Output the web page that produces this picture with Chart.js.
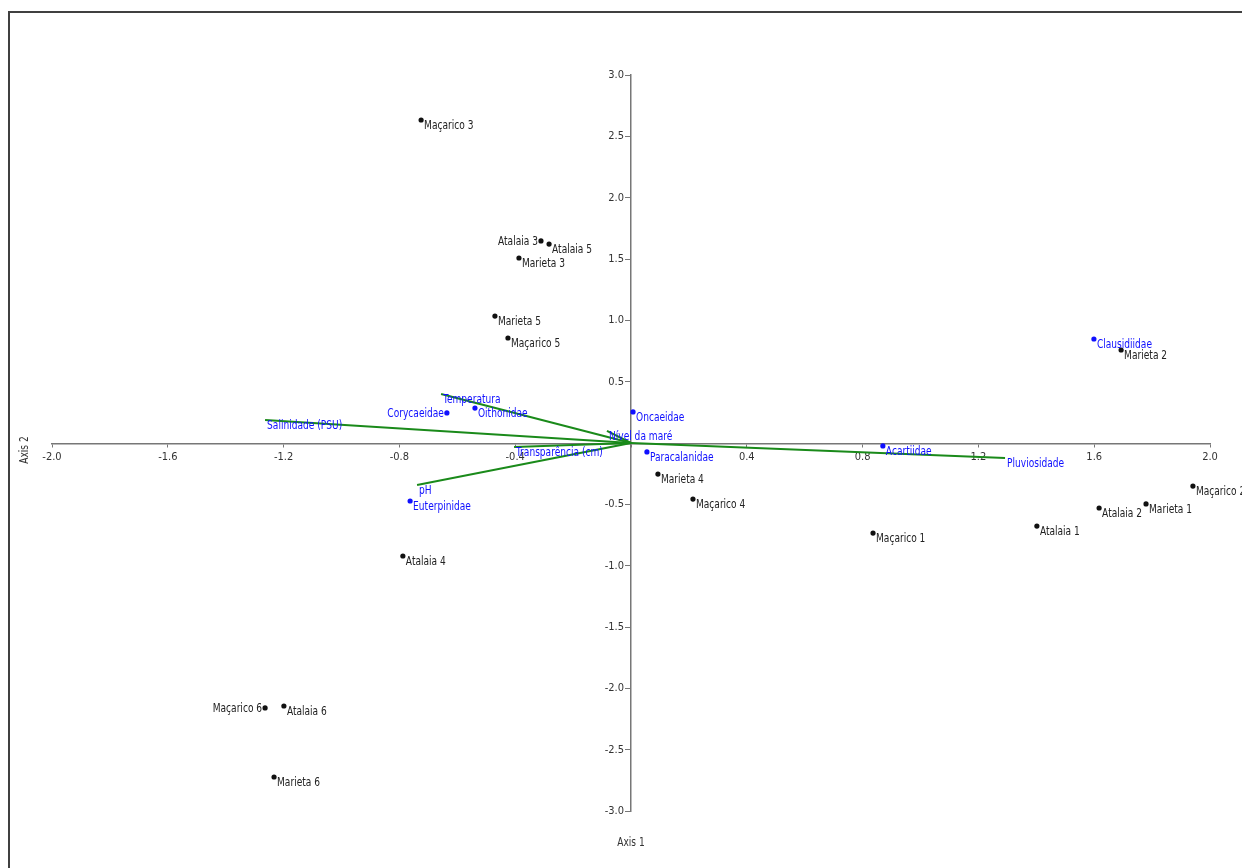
<!DOCTYPE html>
<html>
<head>
<meta charset="utf-8">
<script src="https://cdn.jsdelivr.net/npm/chart.js@4/dist/chart.umd.min.js"></script>
<style>
  html, body { margin: 0; padding: 0; background: #fff; }
  #wrap { width: 1242px; height: 868px; position: relative; }
</style>
</head>
<body>
<div id="wrap"><canvas id="c"></canvas></div>
<script>
// Sampling sites (scores on axes 1 and 2)
const siteNames = ['Maçarico 3', 'Atalaia 3', 'Atalaia 5', 'Marieta 3', 'Marieta 5', 'Maçarico 5',
  'Marieta 2', 'Maçarico 2', 'Marieta 1', 'Atalaia 2', 'Atalaia 1', 'Maçarico 1',
  'Maçarico 4', 'Marieta 4', 'Atalaia 4', 'Maçarico 6', 'Atalaia 6', 'Marieta 6'];
const siteX = [-0.725, -0.311, -0.283, -0.387, -0.470, -0.425,
  1.693, 1.941, 1.779, 1.617, 1.402, 0.836,
  0.214, 0.093, -0.788, -1.264, -1.199, -1.233];
const siteY = [2.633, 1.647, 1.622, 1.508, 1.035, 0.856,
  0.758, -0.351, -0.497, -0.530, -0.677, -0.734,
  -0.457, -0.253, -0.921, -2.160, -2.144, -2.723];

// Copepod families
const familyNames = ['Clausidiidae', 'Acartiidae', 'Oncaeidae', 'Paracalanidae',
  'Oithonidae', 'Corycaeidae', 'Euterpinidae'];
const familyX = [1.599, 0.870, 0.007, 0.055, -0.539, -0.636, -0.763];
const familyY = [0.848, -0.024, 0.253, -0.073, 0.285, 0.245, -0.473];

// Environmental variables (biplot vectors from the origin)
const vectorNames = ['Temperatura', 'Salinidade (PSU)', 'pH', 'Transparência (cm)',
  'Nível da maré', 'Pluviosidade'];
const vectorX = [-0.656, -1.264, -0.739, -0.404, -0.083, 1.292];
const vectorY = [0.399, 0.187, -0.342, -0.033, 0.098, -0.122];

// Labels written on the left side of their point
const leftLabels = ['Atalaia 3', 'Maçarico 6', 'Corycaeidae'];

const axisXTitle = 'Axis 1';
const axisYTitle = 'Axis 2';

const FONT_FAMILY = '"DejaVu Sans Condensed", "Liberation Sans", sans-serif';
const TEXT_SQUEEZE = 0.84;
const GREEN = '#1a8a1a';
const BLUE = '#1010ff';
const BLACK = '#111';

const vectorDatasets = vectorNames.map((name, i) => ({
  label: name,
  kind: 'vector',
  data: [{ x: 0, y: 0 }, { x: vectorX[i], y: vectorY[i] }],
  showLine: true,
  borderColor: GREEN,
  borderWidth: 2,
  pointRadius: 0,
  pointHoverRadius: 0,
  fill: false
}));

const datasets = [
  {
    label: 'Sites',
    kind: 'site',
    names: siteNames,
    data: siteX.map((x, i) => ({ x, y: siteY[i] })),
    backgroundColor: BLACK,
    borderWidth: 0,
    pointRadius: 2.6,
    textColor: '#222'
  },
  {
    label: 'Families',
    kind: 'family',
    names: familyNames,
    data: familyX.map((x, i) => ({ x, y: familyY[i] })),
    backgroundColor: BLUE,
    borderWidth: 0,
    pointRadius: 2.6,
    textColor: BLUE
  },
  ...vectorDatasets
];

// Draws text slightly condensed horizontally, anchored at (x, y)
function drawText(ctx, text, x, y, align) {
  ctx.save();
  ctx.translate(x, y);
  ctx.scale(TEXT_SQUEEZE, 1);
  ctx.textAlign = align;
  ctx.fillText(text, 0, 0);
  ctx.restore();
}

const pointLabels = {
  id: 'pointLabels',
  afterDatasetsDraw(chart) {
    const ctx = chart.ctx;
    ctx.save();
    ctx.font = '12px ' + FONT_FAMILY;
    ctx.textBaseline = 'middle';
    chart.data.datasets.forEach((ds, di) => {
      const meta = chart.getDatasetMeta(di);
      if (ds.kind === 'vector') {
        const end = meta.data[1];
        ctx.fillStyle = BLUE;
        drawText(ctx, ds.label, end.x + 2, end.y + 6, 'left');
        return;
      }
      meta.data.forEach((pt, i) => {
        const name = ds.names[i];
        ctx.fillStyle = ds.textColor;
        if (leftLabels.includes(name)) {
          drawText(ctx, name, pt.x - 3, pt.y + 1, 'right');
        } else {
          drawText(ctx, name, pt.x + 3, pt.y + 6, 'left');
        }
      });
    });
    ctx.restore();
  }
};

const frameAndTitles = {
  id: 'frameAndTitles',
  beforeDraw(chart) {
    const ctx = chart.ctx;
    ctx.save();
    ctx.fillStyle = '#fff';
    ctx.fillRect(0, 0, chart.width, chart.height);
    ctx.strokeStyle = '#404040';
    ctx.lineWidth = 2;
    ctx.beginPath();
    ctx.moveTo(9, chart.height + 5);
    ctx.lineTo(9, 12);
    ctx.lineTo(chart.width + 5, 12);
    ctx.stroke();
    ctx.restore();
  },
  afterDraw(chart) {
    const ctx = chart.ctx;
    const xs = chart.scales.x, ys = chart.scales.y;
    ctx.save();
    ctx.font = '12px ' + FONT_FAMILY;
    ctx.fillStyle = '#333';
    ctx.textBaseline = 'middle';
    drawText(ctx, axisXTitle, xs.getPixelForValue(0), ys.bottom + 32, 'center');
    ctx.translate(25, ys.getPixelForValue(0) + 7);
    ctx.rotate(-Math.PI / 2);
    drawText(ctx, axisYTitle, 0, 0, 'center');
    ctx.restore();
  }
};

const tickFmt = v => (Math.abs(v) < 1e-9 ? '' : Number(v).toFixed(1));

new Chart(document.getElementById('c'), {
  type: 'scatter',
  data: { datasets },
  options: {
    responsive: true,
    maintainAspectRatio: false,
    animation: false,
    layout: { padding: { left: 52, right: 32, top: 75, bottom: 57 } },
    plugins: {
      legend: { display: false },
      tooltip: { enabled: false }
    },
    elements: { line: { tension: 0 } },
    scales: {
      // both ranges are symmetric, so 'center' puts each axis through the origin
      x: {
        type: 'linear',
        min: -2,
        max: 2,
        position: 'center',
        ticks: {
          stepSize: 0.4,
          callback: tickFmt,
          color: '#333',
          font: { family: FONT_FAMILY, size: 11 },
          padding: 5,
          maxRotation: 0,
          autoSkip: false
        },
        grid: { drawOnChartArea: false, drawTicks: true, tickLength: 3, color: '#777' },
        border: { color: '#777', width: 1.5 }
      },
      y: {
        type: 'linear',
        min: -3,
        max: 3,
        position: 'center',
        ticks: {
          stepSize: 0.5,
          callback: tickFmt,
          color: '#333',
          font: { family: FONT_FAMILY, size: 11 },
          padding: 2,
          autoSkip: false
        },
        grid: { drawOnChartArea: false, drawTicks: true, tickLength: 5, color: '#777' },
        border: { color: '#777', width: 1.5 }
      }
    }
  },
  plugins: [frameAndTitles, pointLabels]
});
</script>
</body>
</html>
